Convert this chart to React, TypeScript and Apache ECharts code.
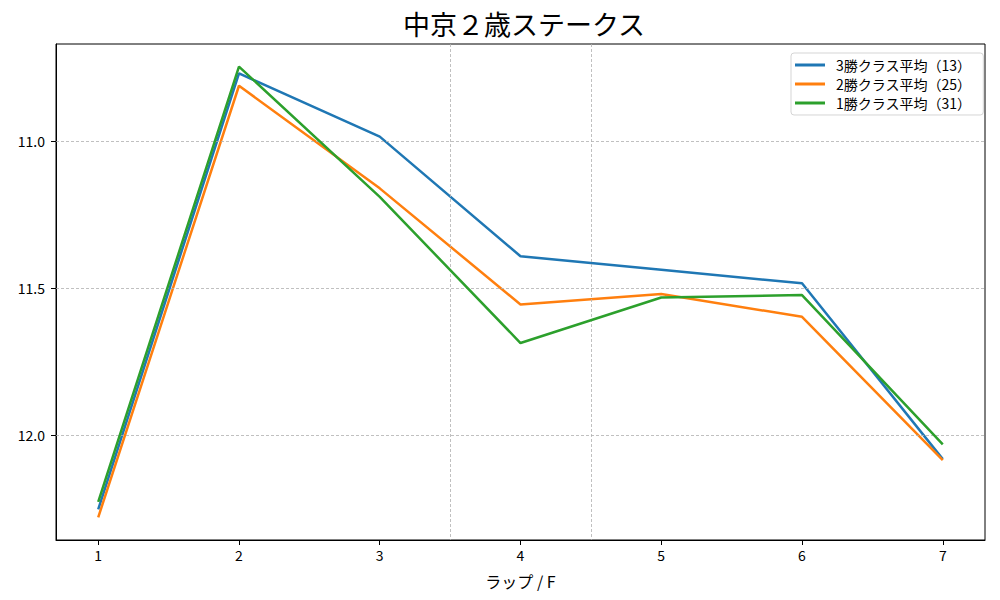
import React, { useEffect, useRef } from "react";
import * as echarts from "echarts";

const laps = [1, 2, 3, 4, 5, 6, 7];
const yTicks = [11.0, 11.5, 12.0];
const sectionLines = [3.5, 4.5];
const seriesNames = ["3勝クラス平均（13）", "2勝クラス平均（25）", "1勝クラス平均（31）"];
const class3 = [12.253, 10.77, 10.985, 11.392, 11.438, 11.484, 12.082];
const class2 = [12.28, 10.812, 11.161, 11.556, 11.52, 11.598, 12.085];
const class1 = [12.227, 10.747, 11.19, 11.687, 11.532, 11.524, 12.032];
const colors = ["#1f77b4", "#ff7f0e", "#2ca02c"];

const FONT = "'Noto Sans CJK JP', 'DejaVu Sans', sans-serif";

export default function App() {
  const ref = useRef<HTMLDivElement>(null);
  useEffect(() => {
    document.body.style.margin = "0";
    const chart = echarts.init(ref.current!, null, { renderer: "svg" });
    const all = [class3, class2, class1];
    const gridStyle = { color: "#b0b0b0", width: 0.8, type: [3, 2] as number[] };
    chart.setOption({
      animation: false,
      textStyle: { fontFamily: FONT },
      title: {
        text: "中京２歳ステークス",
        left: 519,
        textAlign: "center",
        top: 5,
        textStyle: { fontSize: 27, fontWeight: "normal", color: "#000", fontFamily: FONT },
      },
      legend: {
        orient: "vertical",
        left: 791,
        top: 53,
        padding: [5, 12, 5, 4],
        itemGap: 5,
        itemWidth: 30,
        itemHeight: 3,
        icon: "rect",
        backgroundColor: "#fff",
        borderColor: "#d5d5d5",
        borderWidth: 1,
        borderRadius: 3,
        textStyle: { fontSize: 14, color: "#000", fontFamily: FONT, padding: [0, 0, 0, 6] },
        data: seriesNames,
      },
      grid: {
        left: 56,
        right: 15,
        top: 44,
        bottom: 60,
        show: true,
        borderColor: "#000",
        borderWidth: 1,
        containLabel: false,
      },
      xAxis: {
        type: "value",
        min: 0.7,
        max: 7.3,
        name: "ラップ / F",
        nameLocation: "middle",
        nameGap: 33,
        nameTextStyle: { fontSize: 16, color: "#000", fontFamily: FONT },
        axisLine: { show: true, lineStyle: { color: "#000", width: 1 } },
        axisTick: { show: true, customValues: laps, length: 5, lineStyle: { color: "#000" } },
        axisLabel: { customValues: laps, fontSize: 14, color: "#000", margin: 8, fontFamily: FONT },
        splitLine: { show: false },
      },
      yAxis: {
        type: "value",
        inverse: true,
        min: 10.67,
        max: 12.357,
        axisLine: { show: true, lineStyle: { color: "#000", width: 1 } },
        axisTick: { show: true, customValues: yTicks, length: 5, lineStyle: { color: "#000" } },
        axisLabel: {
          customValues: yTicks,
          fontSize: 14,
          color: "#000",
          margin: 11,
          fontFamily: FONT,
          formatter: (v: number) => v.toFixed(1),
        },
        splitLine: { show: false },
      },
      series: [
        ...all.map((vals, i) => ({
          name: seriesNames[i],
          type: "line",
          data: laps.map((x, j) => [x, vals[j]]),
          showSymbol: false,
          symbol: "none",
          lineStyle: { color: colors[i], width: 2.5 },
          itemStyle: { color: colors[i] },
          z: 3 + i,
          markLine:
            i === 0
              ? {
                  silent: true,
                  symbol: "none",
                  label: { show: false },
                  lineStyle: gridStyle,
                  data: [
                    ...sectionLines.map((v) => ({ xAxis: v })),
                    ...yTicks.map((v) => ({ yAxis: v })),
                  ],
                }
              : undefined,
        })),
      ],
    });
    return () => chart.dispose();
  }, []);
  return <div ref={ref} style={{ width: 1000, height: 600 }} />;
}
